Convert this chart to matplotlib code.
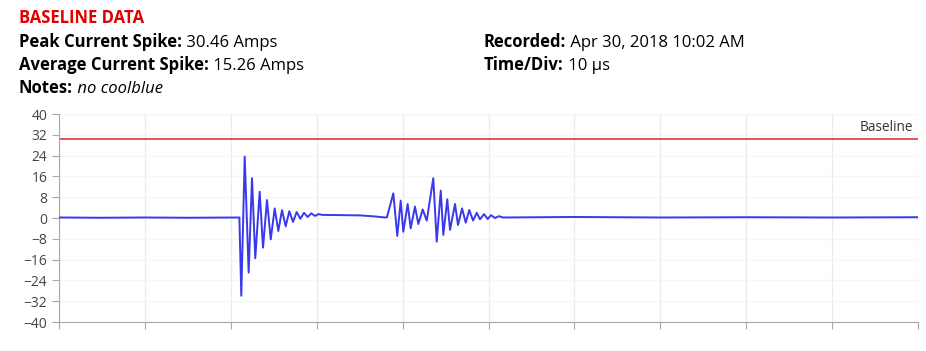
import matplotlib
matplotlib.use("Agg")
import matplotlib.pyplot as plt
import numpy as np

plt.rcParams['font.family'] = ['Open Sans', 'DejaVu Sans']

# header info
title = "BASELINE DATA"
peak_current = 30.46
avg_current = 15.26
notes = "no coolblue"
recorded = "Apr 30, 2018 10:02 AM"
time_div = "10 µs"

# trace: time (µs) and current (A)
t_us = [0.0, 5.0, 10.0, 15.0, 21.0,
        21.22, 21.62, 22.08, 22.47, 22.85, 23.36, 23.75, 24.21, 24.65, 25.11,
        25.53, 25.96, 26.39, 26.81, 27.24, 27.67, 28.09, 28.52, 28.95, 29.37,
        29.80, 30.23, 30.62, 35.04, 36.8, 37.95, 38.18,
        38.92, 39.38, 39.78, 40.08, 40.59, 40.94, 41.44, 41.83, 42.34, 42.81,
        43.57, 43.97, 44.44, 44.74, 45.20, 45.52, 46.10, 46.45, 46.92, 47.35,
        47.76, 48.20, 48.63, 49.01, 49.48, 49.91, 50.29, 50.76, 51.22, 51.69,
        60.0, 70.0, 80.0, 90.0, 100.0]
amps = [0.2, 0.1, 0.2, 0.1, 0.2,
        -29.9, 23.6, -21.0, 15.3, -15.5, 10.1, -11.4, 6.9, -8.2, 3.7,
        -5.0, 3.0, -3.2, 2.6, -1.5, 2.3, -0.3, 2.0, 0.4, 1.8,
        0.8, 1.5, 1.2, 1.0, 0.6, 0.2, 0.3,
        9.5, -6.9, 6.7, -5.3, 5.4, -4.0, 4.4, -2.3, 3.3, -1.0,
        15.3, -9.1, 10.5, -6.5, 7.2, -4.6, 5.4, -2.7, 3.7, -1.8,
        3.1, -1.0, 2.0, -0.5, 1.5, -0.4, 1.1, 0.0, 0.7, 0.2,
        0.4, 0.2, 0.3, 0.2, 0.3]

y_ticks = [40, 32, 24, 16, 8, 0, -8, -16, -24, -32, -40]
x_ticks = [0, 10, 20, 30, 40, 50, 60, 70, 80, 90, 100]

fig = plt.figure(figsize=(9.26, 3.51), dpi=100)
ax = fig.add_axes([0.0637, 0.0826, 0.9277, 0.5926])

ax.plot(t_us, amps, color="#3838ee", lw=1.4, zorder=3,
        solid_joinstyle="round")
ax.axhline(peak_current, color="#d43c3c", lw=1.2, zorder=2)
ax.text(99.4, peak_current + 1.5, "Baseline", ha="right", va="bottom",
        fontsize=9.8, color="#333333")

ax.set_xlim(0, 100)
ax.set_ylim(-40, 40)
ax.set_yticks(y_ticks)
ax.set_xticks(x_ticks)
ax.set_xticklabels([])
ax.grid(True, axis="x", color="#ebebeb", lw=1.0)
ax.grid(True, axis="y", color="#f5f5f5", lw=1.0)
ax.set_axisbelow(True)
for s in ["top", "right"]:
    ax.spines[s].set_visible(False)
for s in ["left", "bottom"]:
    ax.spines[s].set_color("#a8a8a8")
ax.tick_params(axis="both", colors="#a8a8a8", length=5, labelcolor="#454545",
               labelsize=10)

# header lines: bold label followed by regular value
fs = 12
fig.text(19 / 926, 1 - 23 / 351, title, color="#e00000", fontsize=fs,
         fontweight="bold", va="baseline")


def info_line(x, y, label, value, italic=False):
    lbl = fig.text(x / 926, 1 - y / 351, label, fontsize=fs, fontweight="bold",
                   va="baseline", color="black")
    ax.annotate(" " + value, xy=(1, 0), xycoords=lbl, va="bottom", ha="left",
                fontsize=fs, color="black",
                fontstyle="italic" if italic else "normal",
                annotation_clip=False)


info_line(19, 47, "Peak Current Spike:", f"{peak_current:.2f} Amps")
info_line(19, 70, "Average Current Spike:", f"{avg_current:.2f} Amps")
info_line(19, 93, "Notes:", notes, italic=True)
info_line(484, 47, "Recorded:", recorded)
info_line(484, 70, "Time/Div:", time_div)

fig.savefig("out.png", dpi=100)
